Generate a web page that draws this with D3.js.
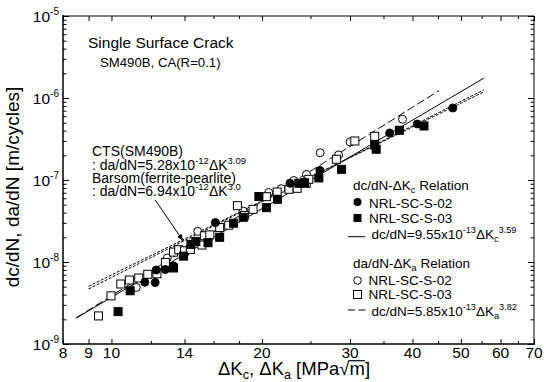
<!DOCTYPE html>
<html lang="en">
<head>
<meta charset="utf-8">
<title>dc/dN, da/dN vs delta K</title>
<script src="https://d3js.org/d3.v7.min.js"></script>
<style>
  body { margin: 0; background: #fff; }
  text { font-family: "Liberation Sans", Arial, sans-serif; fill: #000; }
</style>
</head>
<body>
<script>
// values: [dK (MPa sqrt m), rate (m/cycle)]
const dcS02 = [[11.66,5.66e-9],[12.23,5.62e-9],[12.29,7.99e-9],[12.81,8.10e-9],[13.31,8.94e-9],
  [16.14,3.03e-8],[22.75,9.12e-8],[26.11,1.31e-7],[36.01,3.74e-7],[40.91,4.82e-7],[48.16,7.55e-7]];
const dcS03 = [[10.31,2.48e-9],[10.90,4.46e-9],[13.31,8.45e-9],[13.94,1.18e-8],[14.42,1.64e-8],
  [14.75,1.78e-8],[15.60,1.72e-8],[16.46,2.00e-8],[17.55,2.97e-8],[18.35,3.51e-8],[19.72,6.29e-8],
  [20.41,4.60e-8],[21.48,5.82e-8],[23.70,9.12e-8],[24.33,9.27e-8],[25.99,1.06e-7],[28.86,1.35e-7],
  [33.61,2.67e-7],[33.84,2.37e-7],[37.66,4.04e-7],[42.18,4.56e-7]];
const daS02 = [[11.21,4.89e-9],[12.93,1.12e-8],[14.88,2.36e-8],[18.33,4.19e-8],[20.63,7.04e-8],
  [21.85,7.83e-8],[23.15,9.86e-8],[24.55,1.17e-7],[26.15,2.15e-7],[28.46,2.02e-7],[30.01,2.91e-7],
  [38.20,5.50e-7]];
const daS03 = [[9.42,2.20e-9],[9.98,3.87e-9],[10.44,5.39e-9],[10.86,6.03e-9],[11.34,6.38e-9],
  [11.82,7.08e-9],[12.33,7.18e-9],[12.82,9.86e-9],[13.31,1.32e-8],[13.63,1.41e-8],[14.00,1.37e-8],
  [14.38,1.42e-8],[15.17,1.61e-8],[15.34,2.09e-8],[15.73,2.14e-8],[16.46,2.63e-8],[17.16,2.81e-8],
  [17.86,4.86e-8],[18.44,3.69e-8],[19.20,4.39e-8],[20.41,6.26e-8],[21.45,7.14e-8],[22.65,7.70e-8],
  [23.52,7.92e-8],[24.52,9.12e-8],[24.82,1.02e-7],[28.18,1.79e-7],[30.67,2.99e-7],[33.61,3.41e-7]];

// fit lines, end points
const fitDcK = [8.5, 55.6],  fitDcV = [2.07e-9, 1.75e-6];
const fitDaK = [8.5, 45.2],  fitDaV = [2.08e-9, 1.23e-6];
const ctsK = [9, 55.6],      ctsV = [4.69e-9, 1.26e-6];
const barsomK = [9, 55.6],   barsomV = [5.06e-9, 1.19e-6];
const arrowK = [12.23, 13.92], arrowV = [5.70e-8, 1.80e-8];

// ticks
const xMajor = [8, 9, 10, 14, 20, 30, 40, 50, 60, 70];
const xMinor = [12, 16, 18, 25, 35, 45, 55, 65];
const yMajor = [1e-9, 1e-8, 1e-7, 1e-6, 1e-5];
const yExp = ["-9", "-8", "-7", "-6", "-5"];

const width = 544, height = 382;
const mLeft = 63, mRight = 534, mTop = 16, mBottom = 344;

const x = d3.scaleLog().domain([8, 70]).range([mLeft, mRight]);
const y = d3.scaleLog().domain([1e-9, 1e-5]).range([mBottom, mTop]);
const yMinor = y.ticks().filter(v => !yMajor.some(m => Math.abs(m - v) / m < 1e-6));

const svg = d3.select("body").append("svg")
  .attr("width", width).attr("height", height);

svg.append("defs").append("marker")
  .attr("id", "head").attr("viewBox", "0 0 10 10")
  .attr("refX", 10).attr("refY", 5)
  .attr("markerWidth", 7).attr("markerHeight", 7)
  .attr("markerUnits", "userSpaceOnUse")
  .attr("orient", "auto")
  .append("path").attr("d", "M0,1 L10,5 L0,9 Z").attr("fill", "#000");

// frame
svg.append("line").attr("x1", mLeft).attr("x2", mRight).attr("y1", mTop).attr("y2", mTop)
  .attr("stroke", "#808080").attr("stroke-width", 2);
svg.append("line").attr("x1", mRight).attr("x2", mRight).attr("y1", mTop).attr("y2", mBottom)
  .attr("stroke", "#808080").attr("stroke-width", 2);
svg.append("line").attr("x1", mLeft).attr("x2", mLeft).attr("y1", mTop - 1).attr("y2", mBottom)
  .attr("stroke", "#000").attr("stroke-width", 1.5);
svg.append("line").attr("x1", mLeft).attr("x2", mRight + 1).attr("y1", mBottom).attr("y2", mBottom)
  .attr("stroke", "#000").attr("stroke-width", 1.5);

// axes, ticks pointing in
function addAxis(axis, tf) {
  svg.append("g").attr("transform", tf).call(axis)
    .call(g => g.select(".domain").remove())
    .call(g => g.selectAll(".tick line").attr("stroke", "#000"));
}
addAxis(d3.axisBottom(x).tickValues(xMajor).tickSize(-5).tickFormat(""), `translate(0,${mBottom})`);
addAxis(d3.axisBottom(x).tickValues(xMinor).tickSize(-3).tickFormat(""), `translate(0,${mBottom})`);
addAxis(d3.axisTop(x).tickValues(xMajor).tickSize(-5).tickFormat(""), `translate(0,${mTop})`);
addAxis(d3.axisTop(x).tickValues(xMinor).tickSize(-3).tickFormat(""), `translate(0,${mTop})`);
addAxis(d3.axisLeft(y).tickValues(yMajor).tickSize(-6).tickFormat(""), `translate(${mLeft},0)`);
addAxis(d3.axisLeft(y).tickValues(yMinor).tickSize(-3.5).tickFormat(""), `translate(${mLeft},0)`);
addAxis(d3.axisRight(y).tickValues(yMajor).tickSize(-6).tickFormat(""), `translate(${mRight},0)`);
addAxis(d3.axisRight(y).tickValues(yMinor).tickSize(-3.5).tickFormat(""), `translate(${mRight},0)`);

// tick labels
svg.append("g").selectAll("text").data(xMajor).join("text")
  .attr("x", d => x(d)).attr("y", 358)
  .attr("text-anchor", "middle").attr("font-size", 15.5)
  .text(d => d);

const yl = svg.append("g").selectAll("text").data(yMajor).join("text")
  .attr("x", 59).attr("y", d => y(d) + 5.5)
  .attr("text-anchor", "end").attr("font-size", 15.5);
yl.append("tspan").text("10");
yl.append("tspan").attr("dy", -7).attr("font-size", 10).text((d, i) => yExp[i]);

// rich text helper: parts are [text, "n" | "sup" | "sub"]
function rich(xp, yp, size, parts) {
  const t = svg.append("text").attr("x", xp).attr("y", yp).attr("font-size", size);
  let shift = 0;
  parts.forEach(([s, k]) => {
    const target = k === "sup" ? -0.42 * size : k === "sub" ? 0.25 * size : 0;
    t.append("tspan").attr("dy", target - shift)
      .attr("font-size", k === "n" ? size : size * 0.68).text(s);
    shift = target;
  });
  return t;
}

// axis titles
const xtY = 374.5;
const xt = rich(218, xtY, 18.5, [["\u0394K", "n"], ["c", "sub"], [", \u0394K", "n"], ["a", "sub"], [" [MPa\u221A", "n"]]);
xt.append("tspan").text("m");
xt.append("tspan").text("]");
// bar of the radical over "m"
const mBox = xt.node().getExtentOfChar(14);
svg.append("line")
  .attr("x1", mBox.x - 0.5).attr("x2", mBox.x + mBox.width)
  .attr("y1", xtY - 13.8).attr("y2", xtY - 13.8)
  .attr("stroke", "#000").attr("stroke-width", 1.2);

svg.append("text")
  .attr("transform", "translate(19,187) rotate(-90)")
  .attr("text-anchor", "middle").attr("font-size", 19)
  .text("dc/dN, da/dN [m/cycles]");

// fit lines
const line = d3.line().x(d => x(d[0])).y(d => y(d[1]));
function fit(ks, vs, dash) {
  svg.append("path").datum(ks.map((k, i) => [k, vs[i]]))
    .attr("d", line).attr("fill", "none").attr("stroke", "#000")
    .attr("stroke-width", 1).attr("stroke-dasharray", dash);
}
fit(ctsK, ctsV, "3,1.5");
fit(barsomK, barsomV, "3,1.5");
fit(fitDaK, fitDaV, "8,3.5");
fit(fitDcK, fitDcV, null);

// markers
function circles(data, fill) {
  svg.append("g").selectAll("circle").data(data).join("circle")
    .attr("cx", d => x(d[0])).attr("cy", d => y(d[1])).attr("r", 4)
    .attr("fill", fill).attr("stroke", "#000").attr("stroke-width", 1);
}
function squares(data, fill) {
  svg.append("g").selectAll("rect").data(data).join("rect")
    .attr("x", d => x(d[0]) - 4).attr("y", d => y(d[1]) - 4)
    .attr("width", 8).attr("height", 8)
    .attr("fill", fill).attr("stroke", "#000").attr("stroke-width", 1);
}
circles(daS02, "#fff");
squares(daS03, "#fff");
circles(dcS02, "#000");
squares(dcS03, "#000");

// arrow
svg.append("line")
  .attr("x1", x(arrowK[0])).attr("y1", y(arrowV[0]))
  .attr("x2", x(arrowK[1])).attr("y2", y(arrowV[1]))
  .attr("stroke", "#000").attr("stroke-width", 1).attr("marker-end", "url(#head)");

// annotations
svg.append("text").attr("x", 88).attr("y", 48).attr("font-size", 15.5).text("Single Surface Crack");
svg.append("text").attr("x", 100).attr("y", 66.5).attr("font-size", 13.2).text("SM490B, CA(R=0.1)");
svg.append("text").attr("x", 92).attr("y", 156).attr("font-size", 14).text("CTS(SM490B)");
rich(92, 169.5, 14, [[": da/dN=5.28x10", "n"], ["-12", "sup"], ["\u0394K", "n"], ["3.09", "sup"]]);
svg.append("text").attr("x", 92).attr("y", 182.5).attr("font-size", 14).text("Barsom(ferrite-pearlite)");
rich(92, 196, 14, [[": da/dN=6.94x10", "n"], ["-12", "sup"], ["\u0394K", "n"], ["3.0", "sup"]]);

// legend
const lx = 357.5;
rich(353, 190, 13.5, [["dc/dN-\u0394K", "n"], ["c", "sub"], [" Relation", "n"]]);
svg.append("circle").attr("cx", lx).attr("cy", 202).attr("r", 4).attr("fill", "#000");
svg.append("text").attr("x", 369).attr("y", 207.5).attr("font-size", 13.5).text("NRL-SC-S-02");
svg.append("rect").attr("x", lx - 4).attr("y", 214).attr("width", 8).attr("height", 8).attr("fill", "#000");
svg.append("text").attr("x", 369).attr("y", 222.5).attr("font-size", 13.5).text("NRL-SC-S-03");
svg.append("line").attr("x1", 348).attr("x2", 365).attr("y1", 236.7).attr("y2", 236.7).attr("stroke", "#000");
rich(371.5, 239, 13.5, [["dc/dN=9.55x10", "n"], ["-13", "sup"], ["\u0394K", "n"], ["c", "sub"], ["3.59", "sup"]]);

rich(353, 268, 13.5, [["da/dN-\u0394K", "n"], ["a", "sub"], [" Relation", "n"]]);
svg.append("circle").attr("cx", lx).attr("cy", 280.5).attr("r", 3.8).attr("fill", "#fff").attr("stroke", "#000");
svg.append("text").attr("x", 368.5).attr("y", 284.5).attr("font-size", 13.5).text("NRL-SC-S-02");
svg.append("rect").attr("x", lx - 4).attr("y", 290.5).attr("width", 8).attr("height", 8)
  .attr("fill", "#fff").attr("stroke", "#000");
svg.append("text").attr("x", 368.5).attr("y", 299).attr("font-size", 13.5).text("NRL-SC-S-03");
svg.append("line").attr("x1", 348).attr("x2", 366).attr("y1", 310).attr("y2", 310)
  .attr("stroke", "#000").attr("stroke-dasharray", "7,3.5");
rich(371.5, 316, 13.5, [["dc/dN=5.85x10", "n"], ["-13", "sup"], ["\u0394K", "n"], ["a", "sub"], ["3.82", "sup"]]);
</script>
</body>
</html>
